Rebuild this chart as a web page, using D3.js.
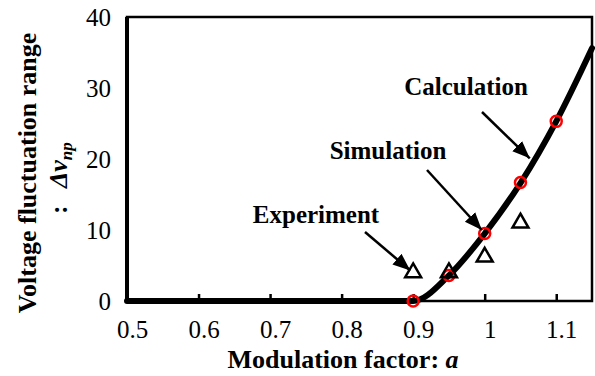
<!DOCTYPE html>
<html lang="en">
<head>
  <meta charset="UTF-8">
  <script src="https://d3js.org/d3.v7.min.js"></script>
  <style>
    body { margin: 0; background: #fff; }
    svg { display: block; }
    text { font-family: "Liberation Serif", "Times New Roman", serif; fill: #000; }
    .tick-label { font-size: 25px; }
    .title { font-size: 26px; font-weight: bold; }
    .note { font-size: 25px; font-weight: bold; }
  </style>
</head>
<body>
  <div id="chart"></div>

  <script>
    // Calculation curve (a, dv)
    var calcX = [0.5, 0.6, 0.7, 0.8, 0.9, 0.95, 1.0, 1.05, 1.1, 1.15];
    var calcY = [0, 0, 0, 0, 0, 3.6, 9.5, 16.6, 25.3, 35.6];
    // Simulation points
    var simX = [0.9, 0.95, 1.0, 1.05, 1.1];
    var simY = [0, 3.6, 9.5, 16.7, 25.3];
    // Experiment points
    var expX = [0.9, 0.95, 1.0, 1.05];
    var expY = [4.0, 4.0, 6.2, 11.0];

    var xTicks = [0.5, 0.6, 0.7, 0.8, 0.9, 1.0, 1.1];
    var yTicks = [0, 10, 20, 30, 40];

    var width = 595;
    var height = 376;
    var margin = { left: 127, right: 3, top: 17, bottom: 75 };

    var svg = d3.select("#chart")
      .append("svg")
      .attr("width", width)
      .attr("height", height);

    var x = d3.scaleLinear().domain([0.5, 1.15]).range([margin.left, width - margin.right]);
    var y = d3.scaleLinear().domain([0, 40]).range([height - margin.bottom, margin.top]);

    // frame
    svg.append("rect")
      .attr("x", x(0.5)).attr("y", y(40))
      .attr("width", x(1.15) - x(0.5)).attr("height", y(0) - y(40))
      .attr("fill", "none").attr("stroke", "#000").attr("stroke-width", 2.5);

    // left axis a bit heavier
    svg.append("line")
      .attr("x1", x(0.5)).attr("x2", x(0.5))
      .attr("y1", y(40)).attr("y2", y(0))
      .attr("stroke", "#000").attr("stroke-width", 4);

    // x axis ticks (inside)
    var xAxis = svg.append("g")
      .attr("transform", "translate(0," + y(0) + ")")
      .call(d3.axisBottom(x).tickValues(xTicks).tickSizeInner(-7).tickSizeOuter(0)
        .tickPadding(19).tickFormat(function (d) { return d3.format("")(+d.toFixed(1)); }));
    xAxis.select(".domain").remove();
    xAxis.selectAll(".tick line").attr("stroke", "#000").attr("stroke-width", 2.5);
    xAxis.selectAll(".tick text").attr("class", "tick-label").attr("font-family", null).attr("font-size", null)
      .attr("dx", 5);

    // y axis
    var yAxis = svg.append("g")
      .attr("transform", "translate(" + x(0.5) + ",0)")
      .call(d3.axisLeft(y).tickValues(yTicks).tickSize(0).tickPadding(16));
    yAxis.select(".domain").remove();
    yAxis.selectAll(".tick text").attr("class", "tick-label").attr("font-family", null).attr("font-size", null);

    // calculation curve
    var line = d3.line()
      .x(function (d) { return x(d[0]); })
      .y(function (d) { return y(d[1]); })
      .curve(d3.curveMonotoneX);

    svg.append("path")
      .datum(d3.zip(calcX, calcY))
      .attr("d", line)
      .attr("fill", "none")
      .attr("stroke", "#000")
      .attr("stroke-width", 6)
      .attr("stroke-linecap", "round");

    // simulation markers (red circles)
    svg.selectAll(".sim")
      .data(d3.zip(simX, simY))
      .enter().append("circle")
      .attr("cx", function (d) { return x(d[0]); })
      .attr("cy", function (d) { return y(d[1]); })
      .attr("r", 5.5)
      .attr("fill", "none")
      .attr("stroke", "#f00")
      .attr("stroke-width", 2.5);

    // experiment markers (triangles)
    var tri = d3.symbol().type(d3.symbolTriangle).size(110);
    svg.selectAll(".exp")
      .data(d3.zip(expX, expY))
      .enter().append("path")
      .attr("d", tri)
      .attr("transform", function (d) { return "translate(" + x(d[0]) + "," + y(d[1]) + ")"; })
      .attr("fill", "none")
      .attr("stroke", "#000")
      .attr("stroke-width", 2.5);

    // annotations
    svg.append("defs").append("marker")
      .attr("id", "head")
      .attr("viewBox", "0 0 10 10")
      .attr("refX", 10).attr("refY", 5)
      .attr("markerWidth", 7).attr("markerHeight", 7)
      .attr("markerUnits", "strokeWidth")
      .attr("orient", "auto")
      .append("path").attr("d", "M0,1L10,5L0,9Z").attr("fill", "#000");

    var notes = [
      { label: "Calculation", tx: 466, ty: 95, from: [482, 112], to: [1.063, 20.1] },
      { label: "Simulation", tx: 388, ty: 159, from: [427, 170], to: [0.996, 10] },
      { label: "Experiment", tx: 316, ty: 223, from: [365, 232], to: [0.896, 4.3] }
    ];

    notes.forEach(function (n) {
      svg.append("text").attr("class", "note")
        .attr("x", n.tx).attr("y", n.ty)
        .attr("text-anchor", "middle")
        .text(n.label);
      svg.append("line")
        .attr("x1", n.from[0]).attr("y1", n.from[1])
        .attr("x2", x(n.to[0])).attr("y2", y(n.to[1]))
        .attr("stroke", "#000").attr("stroke-width", 2.5)
        .attr("marker-end", "url(#head)");
    });

    // axis titles
    var xt = svg.append("text").attr("class", "title")
      .attr("x", 343).attr("y", 368)
      .attr("text-anchor", "middle");
    xt.append("tspan").text("Modulation factor: ");
    xt.append("tspan").attr("font-style", "italic").text("a");

    svg.append("text").attr("class", "title")
      .attr("font-size", "27px")
      .attr("transform", "translate(36,173) rotate(-90)")
      .attr("text-anchor", "middle")
      .text("Voltage fluctuation range");

    // second title line: full-width colon, then the symbol
    svg.append("text").attr("class", "title")
      .attr("font-size", "25px")
      .attr("transform", "translate(67,214) rotate(-90)")
      .text(":");

    var yt2 = svg.append("text").attr("class", "title")
      .attr("font-size", "25px")
      .attr("transform", "translate(67,188) rotate(-90)")
      .attr("text-anchor", "start");
    yt2.append("tspan").attr("font-style", "italic").text("\u0394v");
    yt2.append("tspan").attr("font-style", "italic").attr("font-size", "17px").attr("dy", 5).text("np");
  </script>
</body>
</html>
